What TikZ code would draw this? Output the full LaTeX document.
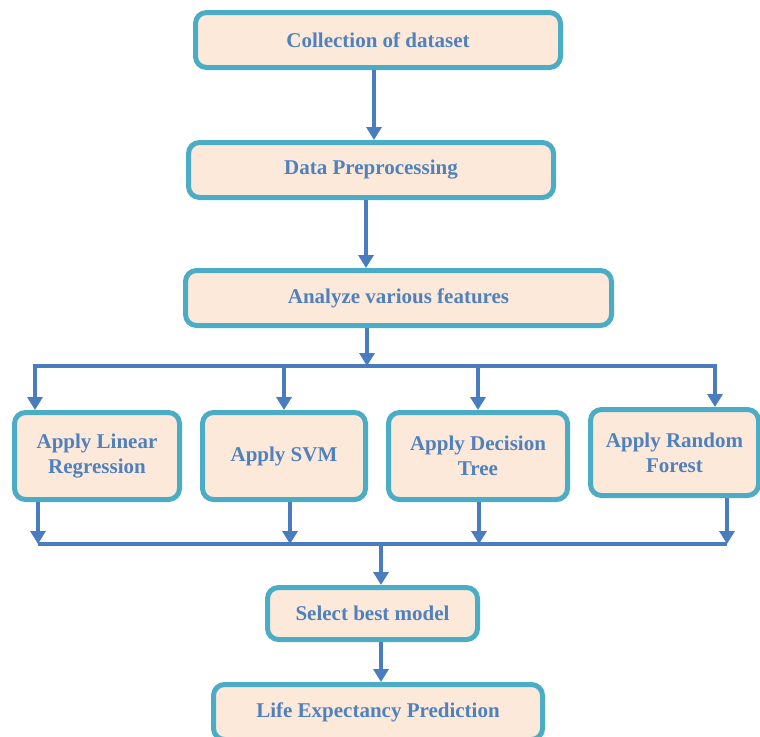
\documentclass[tikz,border=0pt]{standalone}
\usepackage{fontspec}
\setmainfont{Liberation Serif}
\usetikzlibrary{arrows.meta}
\definecolor{boxline}{HTML}{4BACC6}
\definecolor{boxfill}{HTML}{FCE9DA}
\definecolor{boxtext}{HTML}{4F81BD}
\definecolor{flowline}{HTML}{4A7DBF}
\begin{document}
\begin{tikzpicture}[x=1pt, y=-1pt,
        stepbox/.style={draw=boxline, fill=boxfill, line width=5pt, rounded corners=11pt,
            text=boxtext, font=\fontsize{21}{25}\selectfont\bfseries, align=center,
            minimum height=55pt, inner sep=2pt},
        flow/.style={draw=flowline, line width=4pt, -{Triangle[width=15pt,length=13pt]}},
        link/.style={draw=flowline, line width=4pt}]
    \useasboundingbox (0,0) rectangle (760,736);

    \node[stepbox, minimum width=365pt] (collect) at (378,40) {Collection of dataset};
    \node[stepbox, minimum width=365pt] (prep) at (371,170) {Data Preprocessing};
    \node[stepbox, minimum width=426pt] (analyze) at (398.5,298) {Analyze various features};

    \node[stepbox, minimum width=165pt, minimum height=87pt] (linreg) at (97,456) {Apply Linear\\Regression};
    \node[stepbox, minimum width=163pt, minimum height=87pt] (svm) at (284,456) {Apply SVM};
    \node[stepbox, minimum width=179pt, minimum height=87pt] (dtree) at (478,456) {Apply Decision\\Tree};
    \node[stepbox, minimum width=168pt, minimum height=86pt] (rforest) at (674.5,452.5) {Apply Random\\Forest};

    \node[stepbox, minimum width=210pt, minimum height=52pt] (select) at (372.5,613.5) {Select best model};
    \node[stepbox, minimum width=329pt] (predict) at (378,712) {Life Expectancy Prediction};

    \coordinate (split) at (367,366);
    \coordinate (busL) at (35,366);
    \coordinate (busR) at (715,366);
    \coordinate (joinL) at (38,544);
    \coordinate (joinR) at (727,544);
    \coordinate (merge) at (381,544);

    \draw[flow] (collect.south -| 374,0) -- (374,0 |- prep.north);
    \draw[flow] (prep.south -| 366,0) -- (366,0 |- analyze.north);
    \draw[flow] (analyze.south -| split) -- (split);

    % fan out to the four models
    \draw[flow] (split) -| (busL |- linreg.north);
    \draw[flow] (split) -| (busR |- rforest.north);
    \draw[flow] (svm.north |- split) -- (svm.north);
    \draw[flow] (dtree.north |- split) -- (dtree.north);

    % gather the results
    \draw[flow] (linreg.south -| joinL) -- (joinL);
    \draw[flow] (svm.south -| 290,0) -- (290,0 |- joinL);
    \draw[flow] (dtree.south -| 479,0) -- (479,0 |- joinL);
    \draw[flow] (rforest.south -| joinR) -- (joinR);
    \draw[link] (joinL) -- (joinR);

    \draw[flow] (merge) -- (merge |- select.north);
    \draw[flow] (select.south -| merge) -- (merge |- predict.north);
\end{tikzpicture}
\end{document}
